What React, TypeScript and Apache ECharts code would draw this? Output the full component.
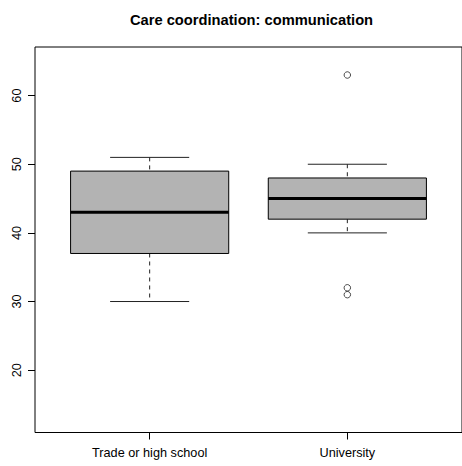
import React, { useEffect, useRef } from "react";
import * as echarts from "echarts";

// Five-number summaries per group
const categories = ["Trade or high school", "University"];
const lowerWhisker = [30, 40];
const q1 = [37, 42];
const median = [43, 45];
const q3 = [49, 48];
const upperWhisker = [51, 50];

// Points beyond the whiskers (group index is 1-based)
const outlierGroup = [2, 2, 2];
const outlierValues = [63, 32, 31];

const yTicks = [20, 30, 40, 50, 60];
const xTicks = [1, 2];

const FONT = "'Liberation Sans', Arial, Helvetica, sans-serif";

export default function App() {
  const ref = useRef<HTMLDivElement>(null);

  useEffect(() => {
    if (!ref.current) return;
    const chart = echarts.init(ref.current, undefined, { renderer: "svg" });

    const boxData = categories.map((_, i) => [
      i + 1,
      lowerWhisker[i],
      q1[i],
      median[i],
      q3[i],
      upperWhisker[i],
    ]);
    const outlierData = outlierGroup.map((g, i) => [g, outlierValues[i]]);

    const renderItem = (params: any, api: any) => {
      const x = api.value(0);
      const pLo = api.coord([x, api.value(1)]);
      const pQ1 = api.coord([x, api.value(2)]);
      const pMed = api.coord([x, api.value(3)]);
      const pQ3 = api.coord([x, api.value(4)]);
      const pHi = api.coord([x, api.value(5)]);
      const c = pMed[0];
      const half = api.size([0.8, 0])[0] / 2;
      const cap = half / 2;
      const whisker = { stroke: "#222", lineWidth: 1, lineDash: [4, 4] };
      const staple = { stroke: "#222", lineWidth: 1 };
      return {
        type: "group",
        children: [
          { type: "line", shape: { x1: c, y1: pHi[1], x2: c, y2: pQ3[1] }, style: whisker },
          { type: "line", shape: { x1: c, y1: pQ1[1], x2: c, y2: pLo[1] }, style: whisker },
          { type: "line", shape: { x1: c - cap, y1: pHi[1], x2: c + cap, y2: pHi[1] }, style: staple },
          { type: "line", shape: { x1: c - cap, y1: pLo[1], x2: c + cap, y2: pLo[1] }, style: staple },
          {
            type: "rect",
            shape: { x: c - half, y: pQ3[1], width: half * 2, height: pQ1[1] - pQ3[1] },
            style: { fill: "#B3B3B3", stroke: "#000", lineWidth: 1 },
          },
          {
            type: "line",
            shape: { x1: c - half, y1: pMed[1], x2: c + half, y2: pMed[1] },
            style: { stroke: "#000", lineWidth: 3 },
          },
        ],
      };
    };

    chart.setOption({
      animation: false,
      backgroundColor: "#fff",
      title: {
        text: "Care coordination: communication",
        left: 246.5,
        textAlign: "center",
        top: 7,
        textStyle: { fontFamily: FONT, fontSize: 14.7, fontWeight: "bold", color: "#000" },
      },
      grid: {
        left: 35,
        top: 47,
        width: 431,
        height: 385.5,
        show: true,
        borderColor: "#000",
        borderWidth: 1,
        backgroundColor: "transparent",
      },
      xAxis: {
        type: "value",
        min: 0.42,
        max: 2.58,
        axisLine: { show: false },
        splitLine: { show: false },
        axisTick: {
          show: true,
          length: 7,
          customValues: xTicks,
          lineStyle: { color: "#000", width: 1 },
        },
        axisLabel: {
          customValues: xTicks,
          margin: 14,
          fontFamily: FONT,
          fontSize: 12.7,
          color: "#000",
          formatter: (v: number) => categories[Math.round(v) - 1] ?? "",
        },
      },
      yAxis: {
        type: "value",
        min: 10.92,
        max: 67.08,
        axisLine: { show: false },
        splitLine: { show: false },
        axisTick: {
          show: true,
          length: 7,
          customValues: yTicks,
          lineStyle: { color: "#000", width: 1 },
        },
        axisLabel: {
          customValues: yTicks,
          rotate: 90,
          margin: 12,
          fontFamily: FONT,
          fontSize: 12.7,
          color: "#000",
        },
      },
      series: [
        {
          type: "custom",
          renderItem,
          data: boxData,
          encode: { x: 0, y: [1, 2, 3, 4, 5] },
          clip: false,
        },
        {
          type: "scatter",
          data: outlierData,
          symbol: "circle",
          symbolSize: 6.5,
          itemStyle: { color: "rgba(255,255,255,0)", borderColor: "#222", borderWidth: 1 },
        },
      ],
    });

    return () => chart.dispose();
  }, []);

  return (
    <div
      ref={ref}
      style={{ position: "absolute", left: 0, top: 0, width: 462, height: 466, background: "#fff" }}
    />
  );
}
